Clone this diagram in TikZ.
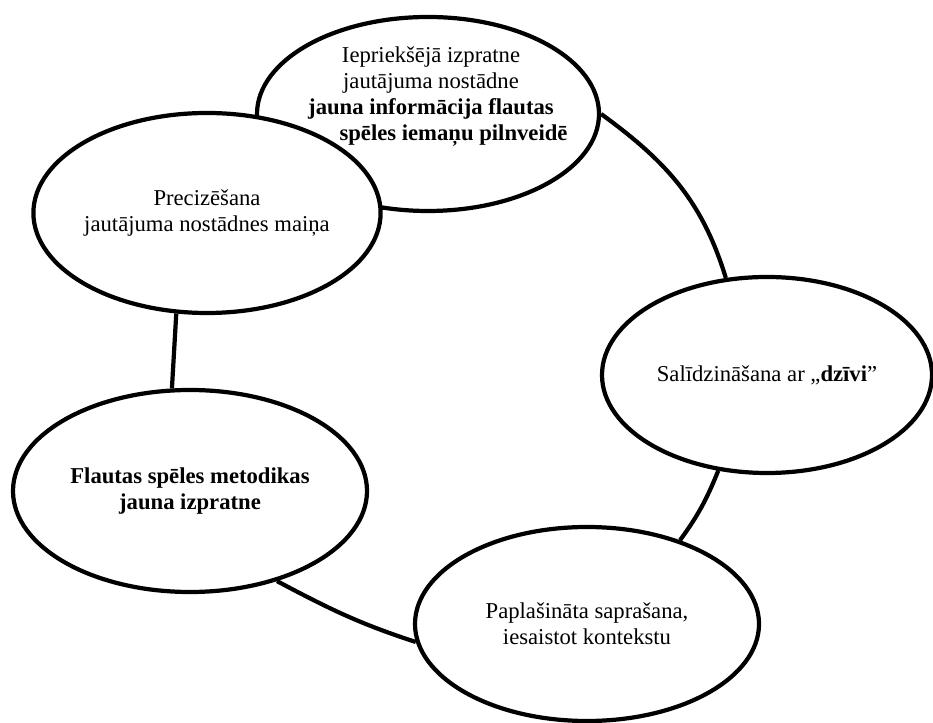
\documentclass[tikz,border=0pt]{standalone}
\usepackage{fontspec}
\setmainfont{Liberation Serif}
\usetikzlibrary{shapes.geometric}

\begin{document}
\begin{tikzpicture}[
  every node/.style = {align=center, font=\fontsize{12.9}{14.8}\selectfont},
  oval/.style = {draw, ellipse, line width=2.4pt, fill=white, inner sep=0pt},
  link/.style = {line width=2.4pt}
]
\useasboundingbox (0,0) rectangle (18.66,14.44);

% --- stages of the cycle
\node[oval, minimum width=6.84cm, minimum height=3.88cm] (prior) at (8.56,12.16) {};
\node (prior-txt) at ([xshift=0.6mm, yshift=3.5mm]prior.center) {Iepriekšējā izpratne \\ jautājuma nostādne \\ \textbf{jauna informācija flautas} \\ \hspace*{9mm}\textbf{spēles iemaņu pilnveidē}};
\node[oval, minimum width=6.88cm, minimum height=4.00cm] (refine) at (4.14,10.18) {Precizēšana \\ jautājuma nostādnes maiņa};
\node[oval, minimum width=6.60cm, minimum height=3.92cm] (compare) at (15.34,6.94) {Salīdzināšana ar „\textbf{dzīvi}”};
\node[oval, minimum width=7.08cm, minimum height=4.04cm] (method) at (3.80,4.62) {\textbf{Flautas spēles metodikas} \\ \textbf{jauna izpratne}};
\node[oval, minimum width=6.88cm, minimum height=3.88cm] (extend) at (11.74,1.96) {Paplašināta saprašana, \\ iesaistot kontekstu};

% --- links
\draw[link] (prior.0) to[out=-36, in=107] (compare.113);
\draw[link] (compare.-117) to[out=-112, in=54] (extend.42);
\draw[link] (extend.186) to[out=162, in=-28] (method.-46);
\draw[link] (method.100) -- (refine.-107);

\end{tikzpicture}
\end{document}
